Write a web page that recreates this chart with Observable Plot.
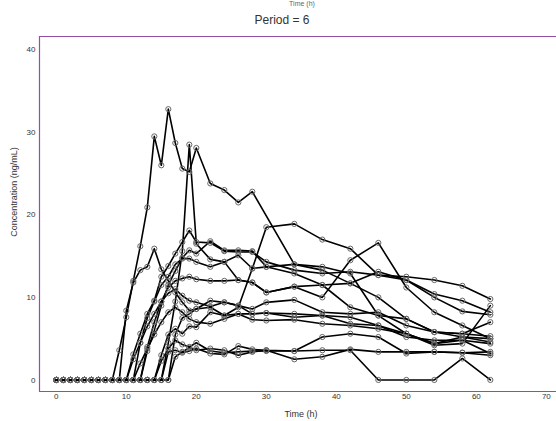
<!DOCTYPE html>
<html>
<head>
<meta charset="utf-8">
<script src="https://cdn.jsdelivr.net/npm/d3@7"></script>
<script src="https://cdn.jsdelivr.net/npm/@observablehq/plot@0.6"></script>
<style>
  body { margin: 0; background: #fff; }
  #chart { position: relative; width: 556px; height: 421px; overflow: hidden;
           font-family: "Liberation Sans", Arial, sans-serif; color: #333; }
  #chart svg { position: absolute; left: 0; top: 0; }
  .lbl { position: absolute; white-space: nowrap; line-height: 1; }
</style>
</head>
<body>
<div id="chart">
  <span class="lbl" style="left:302px; top:0px; font-size:7px; color:#666; transform:translateX(-50%);">Time (h)</span>
  <span class="lbl" style="left:282px; top:19.5px; font-size:12px; transform:translate(-50%,-50%);">Period = 6</span>
  <span class="lbl" style="left:301px; top:410px; font-size:9px; transform:translateX(-50%);">Time (h)</span>
  <span class="lbl" style="left:13.5px; top:192px; font-size:9px; transform:translate(-50%,-50%) rotate(-90deg);">Concentration (ng/mL)</span>
</div>
<script>
// Sampling times (h)
const times = [0,1,2,3,4,5,6,7,8,9,10,11,12,13,14,15,16,17,18,19,20,22,24,26,28,30,34,38,42,46,50,54,58,62];

// Concentration (ng/mL) per subject, aligned with `times`; null = no sample
const s01 = [0,0,0,0,0,0,0,0,0, 3.6,7.6,12.0,16.2,20.9,29.5,26.0,32.8,28.7,25.6,25.2,28.1, 23.8,23.0,21.5,22.8,null,14.0,13.3,11.7,10.0,7.4,5.8,5.6,5.3];
const s02 = [0,0,0,0,0,0,0,0,0,0, 8.4,11.8,13.3,13.7,15.9,13.4,12.0,10.6,9.4,8.4,8.6, 8.8,7.8,8.0,7.3,7.2,7.3,6.8,6.6,6.2,5.6,4.4,4.8,3.2];
const s03 = [0,0,0,0,0,0,0,0,0,0,0, 3.1,5.6,8.0,9.6,12.5,13.8,15.3,16.7,18.1,16.7, 16.6,15.6,15.5,15.5,14.3,13.3,12.9,13.1,12.7,12.5,12.1,11.4,9.8];
const s04 = [0,0,0,0,0,0,0,0,0,0,0,0,0,0,0,0, 4.5,9.5,15.6,28.5,16.5, 14.6,14.3,15.1,13.5,13.7,12.9,11.5,11.7,13.1,12.1,10.4,9.6,8.2];
const s05 = [0,0,0,0,0,0,0,0,0,0,0,0, 4.5,7.5,9.5,11.5,12.5,14.0,14.7,14.7,14.3, 13.7,14.3,12.1,11.8,10.6,11.3,10.0,14.5,16.6,11.2,8.2,6.6,5.0];
const s06 = [0,0,0,0,0,0,0,0,0,0,0,0,0, 3.5,6.0,9.0,11.5,13.2,14.8,15.7,15.3, 16.8,15.7,15.7,15.6,13.7,14.0,13.7,12.9,7.8,5.6,4.2,4.4,9.0];
const s07 = [0,0,0,0,0,0,0,0,0,0,0,0,0,0,0, 3.0,5.5,6.2,5.6,6.5,6.4, 8.2,7.8,8.8,13.5,18.5,18.9,17.0,15.9,12.7,12.1,10.0,8.3,7.9];
const s08 = [0,0,0,0,0,0,0,0,0,0,0, 2.5,4.5,6.5,8.0,9.5,10.5,11.0,10.2,9.6,9.4, 8.9,9.4,9.0,8.6,9.4,9.7,8.2,8.0,8.2,6.6,5.8,5.2,4.6];
const s09 = [0,0,0,0,0,0,0,0,0,0,0,0, 2.0,3.8,5.5,7.0,8.2,8.8,8.2,7.4,7.0, 6.8,7.4,8.0,8.0,8.1,8.0,7.8,7.6,6.6,5.2,4.8,4.8,4.4];
const s10 = [0,0,0,0,0,0,0,0,0,0,0,0,0,0,0,0,0, 2.8,3.4,3.9,3.6, 3.8,3.6,3.0,3.4,3.6,2.5,2.8,3.7,3.4,3.4,3.4,3.3,3.4];
const s11 = [0,0,0,0,0,0,0,0,0,0,0,0,0,0,0,0, 3.4,3.6,3.3,3.5,3.8, 3.2,3.1,4.1,3.7,3.6,3.5,3.6,3.6,0,0,0,2.6,0];
const s12 = [0,0,0,0,0,0,0,0,0,0,0,0,0,0,0, 2.3,3.8,4.8,4.3,4.0,4.5, 3.5,3.3,3.4,3.5,3.5,3.5,5.2,5.6,5.2,3.2,3.4,3.3,3.0];
const s13 = [0,0,0,0,0,0,0,0,0,0,0,0,0, 4.0,7.0,9.5,11.2,12.0,12.3,12.5,12.2, 12.0,12.0,12.1,11.8,10.6,11.3,11.5,8.8,7.8,7.4,5.8,5.6,7.0];
const s14 = [0,0,0,0,0,0,0,0,0,0,0,0,0,0,0,0,0, 5.5,7.5,8.0,8.6, 9.6,9.4,9.0,8.0,8.1,7.6,7.8,6.8,6.6,5.6,4.4,5.2,5.0];

const subjects = [
  ["01", s01], ["02", s02], ["03", s03], ["04", s04], ["05", s05], ["06", s06], ["07", s07],
  ["08", s08], ["09", s09], ["10", s10], ["11", s11], ["12", s12], ["13", s13], ["14", s14]
];

// Axis ticks and extents
const xTicks = [0, 10, 20, 30, 40, 50, 60, 70];
const yTicks = [0, 10, 20, 30, 40];
const xDomain = [-2.4, 71.45];
const yDomain = [-1.4, 41.6];
const frameColor = "#9150a3";

// Long-format table: one row per observed sample
const rows = subjects.flatMap(([id, values]) =>
  values.map((v, i) => ({id, t: times[i], v})).filter(d => d.v != null)
);

const chart = Plot.plot({
  width: 556,
  height: 421,
  marginLeft: 39,
  marginRight: 0,
  marginTop: 36,
  marginBottom: 30,
  style: {fontFamily: "Liberation Sans, Arial, sans-serif", fontSize: "8px", color: "#333", background: "transparent", overflow: "visible"},
  x: {domain: xDomain, label: null},
  y: {domain: yDomain, label: null},
  marks: [
    Plot.ruleX([xDomain[0]], {stroke: frameColor, strokeWidth: 1.2}),
    Plot.ruleY(yDomain, {stroke: frameColor, strokeWidth: 1.2}),
    Plot.axisX({ticks: xTicks, tickSize: 0, tickPadding: 2, label: null, fill: "#333"}),
    Plot.axisY({ticks: yTicks, tickSize: 0, tickPadding: 4, label: null, fill: "#333"}),
    Plot.line(rows, {x: "t", y: "v", z: "id", stroke: "black", strokeWidth: 1.6}),
    Plot.dot(rows, {x: "t", y: "v", r: 2.6, stroke: "#666", strokeWidth: 1})
  ]
});

document.getElementById("chart").prepend(chart);
</script>
</body>
</html>
